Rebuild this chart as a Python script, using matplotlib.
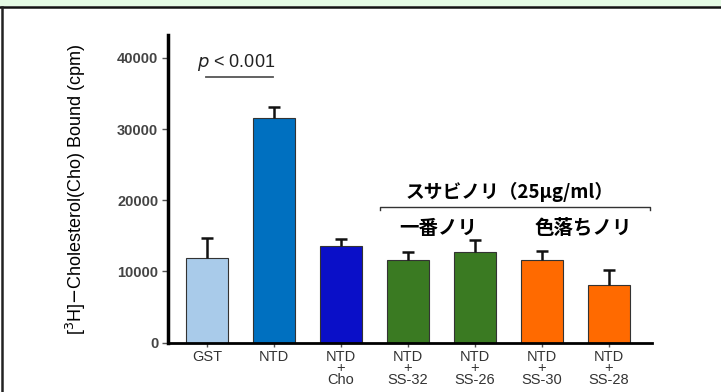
import numpy as np
import matplotlib.pyplot as plt
from matplotlib.patches import Rectangle
from matplotlib.lines import Line2D

# --- Data ---
labels = ['GST', 'NTD', 'NTD\n+\nCho', 'NTD\n+\nSS-32', 'NTD\n+\nSS-26', 'NTD\n+\nSS-30', 'NTD\n+\nSS-28']
values = [11950, 31500, 13600, 11550, 12800, 11600, 8100]
errors = [2800, 1650, 950, 1250, 1650, 1300, 2100]
colors = ['#a9cbea', '#0070c0', '#0a0fc8', '#3a7a22', '#3a7a22', '#ff6a00', '#ff6a00']
yticks = [0, 10000, 20000, 30000, 40000]

jp = ['Noto Sans CJK JP', 'DejaVu Sans']
sans = ['Liberation Sans', 'DejaVu Sans']

# --- Figure ---
fig = plt.figure(figsize=(7.21, 3.92), dpi=100)
fig.patch.set_facecolor('white')
# light green strip and frame lines
fig.patches.append(Rectangle((0, 1 - 6 / 392), 1, 6 / 392, transform=fig.transFigure,
                             facecolor='#e4fae4', edgecolor='none', zorder=0))
fig.lines.append(Line2D([0, 1], [1 - 6.5 / 392] * 2, transform=fig.transFigure, color='#111111', lw=1.8))
fig.lines.append(Line2D([2.2 / 721] * 2, [0, 1 - 6.5 / 392], transform=fig.transFigure, color='#222222', lw=1.8))

ax = fig.add_axes([168 / 721, 1 - 342.7 / 392, (651.7 - 168) / 721, (342.7 - 35) / 392])
x = np.arange(len(values))
ax.bar(x, values, width=0.63, color=colors, edgecolor='#333333', linewidth=0.8, zorder=2)
eb = ax.errorbar(x, values, yerr=[np.zeros(len(errors)), errors], fmt='none', ecolor='#111111',
                 elinewidth=1.8, capsize=4, capthick=1.8, zorder=3)
eb[1][0].set_visible(False)  # only the upper cap

ax.set_xlim(-0.58, 6.64)
ax.set_ylim(0, 43200)
ax.set_yticks(yticks)
ax.set_yticklabels([str(v) for v in yticks], fontsize=10.5, fontweight='bold', color='#444444', family=sans)
ax.set_xticks(x)
ax.set_xticklabels(labels, fontsize=10.5, color='#333333', family=sans, linespacing=0.78)
ax.tick_params(axis='y', length=4, width=1, color='#555555', pad=3)
ax.tick_params(axis='x', length=3, width=1, color='#555555', pad=2)
for s in ['top', 'right']:
    ax.spines[s].set_visible(False)
ax.spines['left'].set_linewidth(2.5)
ax.spines['bottom'].set_linewidth(2)

ax.set_ylabel(r'[$^3$H]$-$Cholesterol(Cho) Bound (cpm)', fontsize=13, family=['Liberation Sans Narrow', 'Liberation Sans'],
              labelpad=21)

# p value annotation
ax.text(0.44, 39300, r'$\it{p}$ < 0.001', ha='center', va='center', fontsize=13, family=sans, color='#222222')
ax.plot([-0.02, 0.98], [37300, 37300], color='#555555', lw=1.3, clip_on=False)

# bracket over nori samples
by = 19100
ax.plot([2.59, 2.59, 6.62, 6.62], [by - 500, by, by, by - 500], color='#333333', lw=1, clip_on=False)
ax.text(4.52, 21200, 'スサビノリ（25μg/ml）', ha='center', va='center', fontsize=13.5,
        fontweight='bold', family=jp)
ax.text(3.46, 16100, '一番ノリ', ha='center', va='center', fontsize=14, fontweight='bold', family=jp)
ax.text(5.62, 16100, '色落ちノリ', ha='center', va='center', fontsize=14, fontweight='bold', family=jp)

fig.savefig('out.png', dpi=100)
